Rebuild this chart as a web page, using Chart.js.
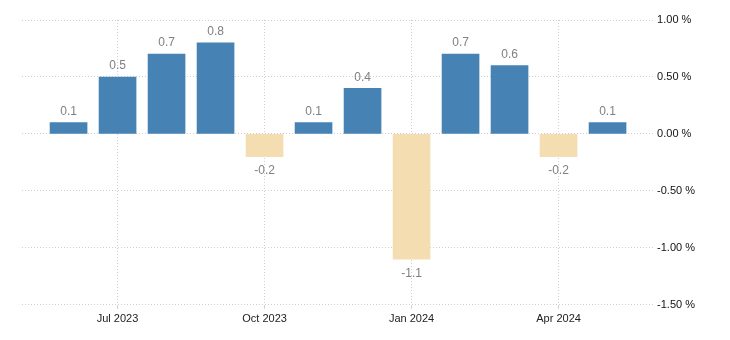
<!DOCTYPE html>
<html>
<head>
<meta charset="utf-8">
<script src="https://cdn.jsdelivr.net/npm/chart.js@4"></script>
<style>
  html, body { margin: 0; padding: 0; background: #fff; }
  #wrap { width: 730px; height: 340px; }
</style>
</head>
<body>
<div id="wrap"><canvas id="chart" width="730" height="340"></canvas></div>
<script>
const months = ["Jun 2023", "Jul 2023", "Aug 2023", "Sep 2023", "Oct 2023", "Nov 2023",
    "Dec 2023", "Jan 2024", "Feb 2024", "Mar 2024", "Apr 2024", "May 2024"]
const values = [0.1, 0.5, 0.7, 0.8, -0.2, 0.1, 0.4, -1.1, 0.7, 0.6, -0.2, 0.1]
const tickMonths = ["Jul 2023", "Oct 2023", "Jan 2024", "Apr 2024"]
const yMin = -1.5
const yMax = 1
const yStep = 0.5

const BLUE = "#4682b4"
const SAND = "#f3ddb1"
const FONT = "'Liberation Sans', Arial, sans-serif"

// draws the value above (or below) each bar
function barLabelsPlugin() {
    return {
        id: "barLabels",
        afterDatasetsDraw: (chart) => {
            const { ctx } = chart
            const meta = chart.getDatasetMeta(0)

            ctx.save()
            ctx.font = "12px " + FONT
            ctx.fillStyle = "#808080"
            ctx.textAlign = "center"
            ctx.textBaseline = "middle"
            meta.data.forEach((bar, i) => {
                const v = values[i]
                const y = v >= 0 ? bar.y - 11 : bar.y + 14
                ctx.fillText(String(v), bar.x, y)
            })
            ctx.restore()
        }
    }
}

const points = values.map((v, i) => ({ x: i + 1, y: v }))

new Chart(document.getElementById("chart").getContext("2d"), {
    type: "bar",
    data: {
        datasets: [{
            data: points,
            backgroundColor: values.map(v => v >= 0 ? BLUE : SAND),
            borderWidth: 0,
            barThickness: 37
        }]
    },
    options: {
        responsive: false,
        animation: false,
        layout: { padding: { left: 22, top: 20, right: 32, bottom: 10 } },
        plugins: {
            legend: { display: false },
            tooltip: { enabled: false }
        },
        scales: {
            x: {
                type: "linear",
                offset: false,
                min: 0.05,
                max: 12.95,
                afterBuildTicks: (axis) => {
                    axis.ticks = tickMonths.map(m => ({ value: months.indexOf(m) + 1 }))
                },
                ticks: {
                    autoSkip: false,
                    maxRotation: 0,
                    padding: 4,
                    color: "#222",
                    font: { family: FONT, size: 11 },
                    callback: (value) => months[value - 1]
                },
                grid: { offset: false, color: "#cfcfcf", tickLength: 4, tickColor: "#cfcfcf" },
                border: { display: false, dash: [1, 2] }
            },
            y: {
                position: "right",
                min: yMin,
                max: yMax,
                ticks: {
                    stepSize: yStep,
                    padding: 3,
                    color: "#111",
                    font: { family: FONT, size: 11 },
                    callback: (value) => value.toFixed(2) + " %"
                },
                grid: { color: "#cfcfcf", drawTicks: false },
                border: { display: false, dash: [1, 2] }
            }
        }
    },
    plugins: [barLabelsPlugin()]
})
</script>
</body>
</html>
